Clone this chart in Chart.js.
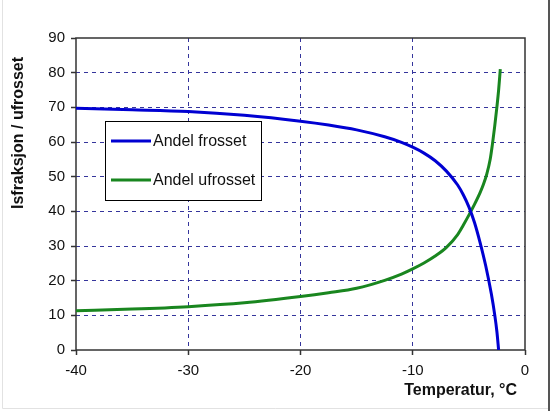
<!DOCTYPE html>
<html>
<head>
<meta charset="utf-8">
<script src="https://cdn.jsdelivr.net/npm/chart.js@4/dist/chart.umd.min.js"></script>
<style>
  html, body { margin: 0; padding: 0; background: #fff; }
  #isChart { display: block; }
</style>
</head>
<body>
<canvas id="isChart" width="552" height="411"></canvas>
<script>
// Temperatur (°C) og andel vann (%)
const tempFrosset = [-40, -35, -30, -25, -20, -17.5, -15, -12.5, -11, -10, -9, -8, -7, -6, -5.5, -5, -4.5, -4, -3.5, -3, -2.7, -2.5, -2.35];
const andelFrosset = [69.7, 69.3, 68.8, 67.7, 66.0, 64.9, 63.5, 61.5, 59.9, 58.5, 56.8, 54.6, 51.6, 47.6, 44.8, 41.3, 36.8, 31.0, 24.3, 16.2, 10.2, 5.2, 0];

const tempUfrosset = [-40, -35, -30, -25, -20, -17.5, -15, -12.5, -11, -10, -9, -8, -7, -6, -5.5, -5, -4.5, -4, -3.7, -3.4, -3.1, -2.9, -2.7, -2.5, -2.35, -2.2];
const andelUfrosset = [11.3, 11.8, 12.5, 13.6, 15.4, 16.5, 17.8, 20.1, 21.9, 23.4, 25.1, 27.1, 29.6, 33.3, 36.0, 38.9, 42.0, 45.4, 47.8, 50.8, 55.0, 59.4, 64.5, 70.2, 75.0, 81.0];

const seriesNames = ['Andel frosset', 'Andel ufrosset'];
const xTicks = [-40, -30, -20, -10, 0];
const yTicks = [0, 10, 20, 30, 40, 50, 60, 70, 80, 90];
const xTitle = 'Temperatur, °C';
const yTitle = 'Isfraksjon / ufrosset';

const gridColor = '#35359c';
const frameColor = '#333';

const toPoints = (xs, ys) => xs.map((x, i) => ({ x: x, y: ys[i] }));

// ramme rundt plottet, aksetitler og forklaring
const excelLook = {
  id: 'excelLook',
  beforeDraw(chart) {
    const { ctx } = chart;
    ctx.save();
    ctx.fillStyle = '#fff';
    ctx.fillRect(0, 0, chart.width, chart.height);
    // ytre kant
    ctx.strokeStyle = '#e2e2e2';
    ctx.lineWidth = 1;
    ctx.beginPath();
    ctx.moveTo(2.5, 0); ctx.lineTo(2.5, 408.5); ctx.lineTo(549, 408.5);
    ctx.stroke();
    ctx.strokeStyle = '#555';
    ctx.lineWidth = 2;
    ctx.beginPath();
    ctx.moveTo(549, 0); ctx.lineTo(549, chart.height);
    ctx.stroke();
    ctx.restore();
  },
  beforeDatasetsDraw(chart) {
    const { ctx, chartArea: a } = chart;
    ctx.save();
    ctx.strokeStyle = frameColor;
    ctx.lineWidth = 1.5;
    ctx.strokeRect(a.left, a.top, a.right - a.left, a.bottom - a.top);
    ctx.restore();
  },
  afterDatasetsDraw(chart) {
    const { ctx } = chart;
    ctx.save();
    // aksetitler
    ctx.fillStyle = '#111';
    ctx.font = 'bold 16px "Liberation Sans", Arial, sans-serif';
    ctx.textAlign = 'right';
    ctx.textBaseline = 'middle';
    ctx.fillText(xTitle, 517, 391);
    ctx.translate(19, 133);
    ctx.rotate(-Math.PI / 2);
    ctx.textAlign = 'center';
    ctx.fillText(yTitle, 0, 0);
    ctx.restore();

    // forklaring
    ctx.save();
    ctx.fillStyle = '#fff';
    ctx.fillRect(105, 121, 157, 80);
    ctx.strokeStyle = '#000';
    ctx.lineWidth = 1;
    ctx.strokeRect(105.5, 121.5, 156, 79);
    ctx.font = '16px "Liberation Sans", Arial, sans-serif';
    ctx.textAlign = 'left';
    ctx.textBaseline = 'middle';
    const rows = [141, 180];
    chart.data.datasets.forEach((ds, i) => {
      ctx.strokeStyle = ds.borderColor;
      ctx.lineWidth = 3;
      ctx.beginPath();
      ctx.moveTo(111, rows[i]);
      ctx.lineTo(151, rows[i]);
      ctx.stroke();
      ctx.fillStyle = '#111';
      ctx.fillText(ds.label, 153, rows[i] + 1);
    });
    ctx.restore();
  }
};

const edgeClear = (lo, hi) => (c) =>
  (c.tick && (c.tick.value === lo || c.tick.value === hi)) ? 'rgba(0,0,0,0)' : gridColor;

new Chart(document.getElementById('isChart'), {
  type: 'line',
  data: {
    datasets: [
      {
        label: seriesNames[0],
        data: toPoints(tempFrosset, andelFrosset),
        borderColor: '#0000d2',
        borderWidth: 3,
        pointRadius: 0,
        cubicInterpolationMode: 'monotone',
        fill: false
      },
      {
        label: seriesNames[1],
        data: toPoints(tempUfrosset, andelUfrosset),
        borderColor: '#19861f',
        borderWidth: 3,
        pointRadius: 0,
        cubicInterpolationMode: 'monotone',
        fill: false
      }
    ]
  },
  options: {
    responsive: false,
    animation: false,
    devicePixelRatio: 1,
    layout: { padding: { left: 0, top: 38, right: 27, bottom: 0 } },
    plugins: { legend: { display: false }, tooltip: { enabled: false } },
    scales: {
      x: {
        type: 'linear',
        min: xTicks[0],
        max: xTicks[xTicks.length - 1],
        afterBuildTicks: (s) => { s.ticks = xTicks.map(v => ({ value: v })); },
        afterFit: (s) => { s.height = 61; },
        ticks: {
          color: '#111',
          padding: 7,
          font: { family: '"Liberation Sans", Arial, sans-serif', size: 15 }
        },
        grid: {
          color: edgeClear(-40, 0),
          lineWidth: 1,
          tickLength: 5,
          tickColor: frameColor,
          tickWidth: 1.5
        },
        border: { display: false, dash: [4, 4] }
      },
      y: {
        min: yTicks[0],
        max: yTicks[yTicks.length - 1],
        afterBuildTicks: (s) => { s.ticks = yTicks.map(v => ({ value: v })); },
        afterFit: (s) => { s.width = 76; },
        ticks: {
          color: '#111',
          padding: 6,
          font: { family: '"Liberation Sans", Arial, sans-serif', size: 15 }
        },
        grid: {
          color: edgeClear(0, 90),
          lineWidth: 1,
          tickLength: 5,
          tickColor: frameColor,
          tickWidth: 1.5
        },
        border: { display: false, dash: [4, 4] }
      }
    }
  },
  plugins: [excelLook]
});
</script>
</body>
</html>
